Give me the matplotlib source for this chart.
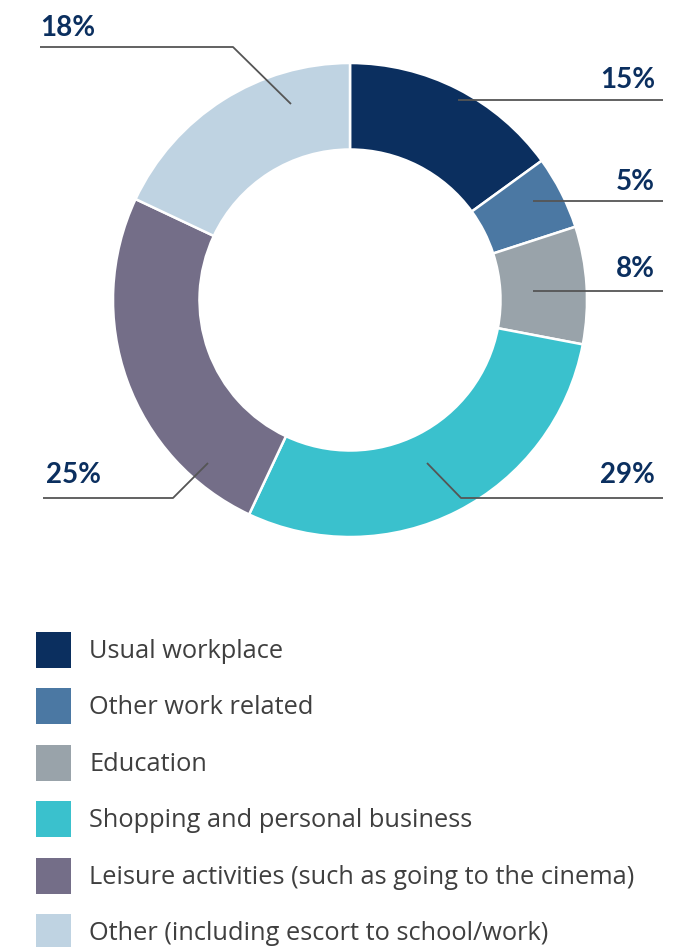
import matplotlib.pyplot as plt
from matplotlib.patches import Rectangle

# Data
categories = [
    "Usual workplace",
    "Other work related",
    "Education",
    "Shopping and personal business",
    "Leisure activities (such as going to the cinema)",
    "Other (including escort to school/work)",
]
shares = [15, 5, 8, 29, 25, 18]
colors = ["#0b2f5f", "#4b78a3", "#99a3aa", "#3ac1cd", "#746e88", "#bfd3e2"]

label_color = "#0b2f5f"
line_color = "#555555"
text_color = "#3f3f3f"

W, H = 690, 947
fig = plt.figure(figsize=(W / 100, H / 100), dpi=100)

# donut: centre (350, 300) px, radius 237 px
cx, cy, r = 350, 300, 237
ax = fig.add_axes([(cx - r) / W, 1 - (cy + r) / H, 2 * r / W, 2 * r / H])
ax.pie(
    shares,
    colors=colors,
    startangle=90,
    counterclock=False,
    radius=1.0,
    wedgeprops=dict(width=0.365, edgecolor="white", linewidth=1.8),
)
ax.set_xlim(-1, 1)
ax.set_ylim(-1, 1)
ax.set_aspect("equal")
ax.axis("off")

# overlay in pixel coordinates for leader lines, labels and legend
ov = fig.add_axes([0, 0, 1, 1], zorder=5)
ov.set_xlim(0, W)
ov.set_ylim(H, 0)
ov.axis("off")

# leader lines: (anchor in slice, elbow, end), label position, alignment
leaders = [
    ((458, 100), (458, 100), (663, 100), (655, 88), "right"),
    ((533, 201), (533, 201), (663, 201), (655, 190), "right"),
    ((533, 291), (533, 291), (663, 291), (655, 277), "right"),
    ((427, 463), (461, 498), (663, 498), (655, 483), "right"),
    ((208, 463), (173, 498), (43, 498), (46, 483), "left"),
    ((291, 104), (233, 47), (40, 47), (40, 36), "left"),
]
for share, (a, e, end, tpos, ha) in zip(shares, leaders):
    ov.plot([a[0], e[0], end[0]], [a[1], e[1], end[1]],
            color=line_color, linewidth=1.3, solid_capstyle="butt")
    ov.text(tpos[0], tpos[1], f"{share}%", ha=ha, va="baseline",
            fontsize=20, fontweight="bold", family="Lato", color=label_color)

# legend
for i, (cat, col) in enumerate(zip(categories, colors)):
    top = 632 + 56.4 * i
    ov.add_patch(Rectangle((36, top), 35, 36, facecolor=col, edgecolor="none"))
    ov.text(89, top + 26, cat, ha="left", va="baseline",
            fontsize=18.3, family="Open Sans", color=text_color)

plt.savefig("out.png", dpi=100, facecolor="white")
